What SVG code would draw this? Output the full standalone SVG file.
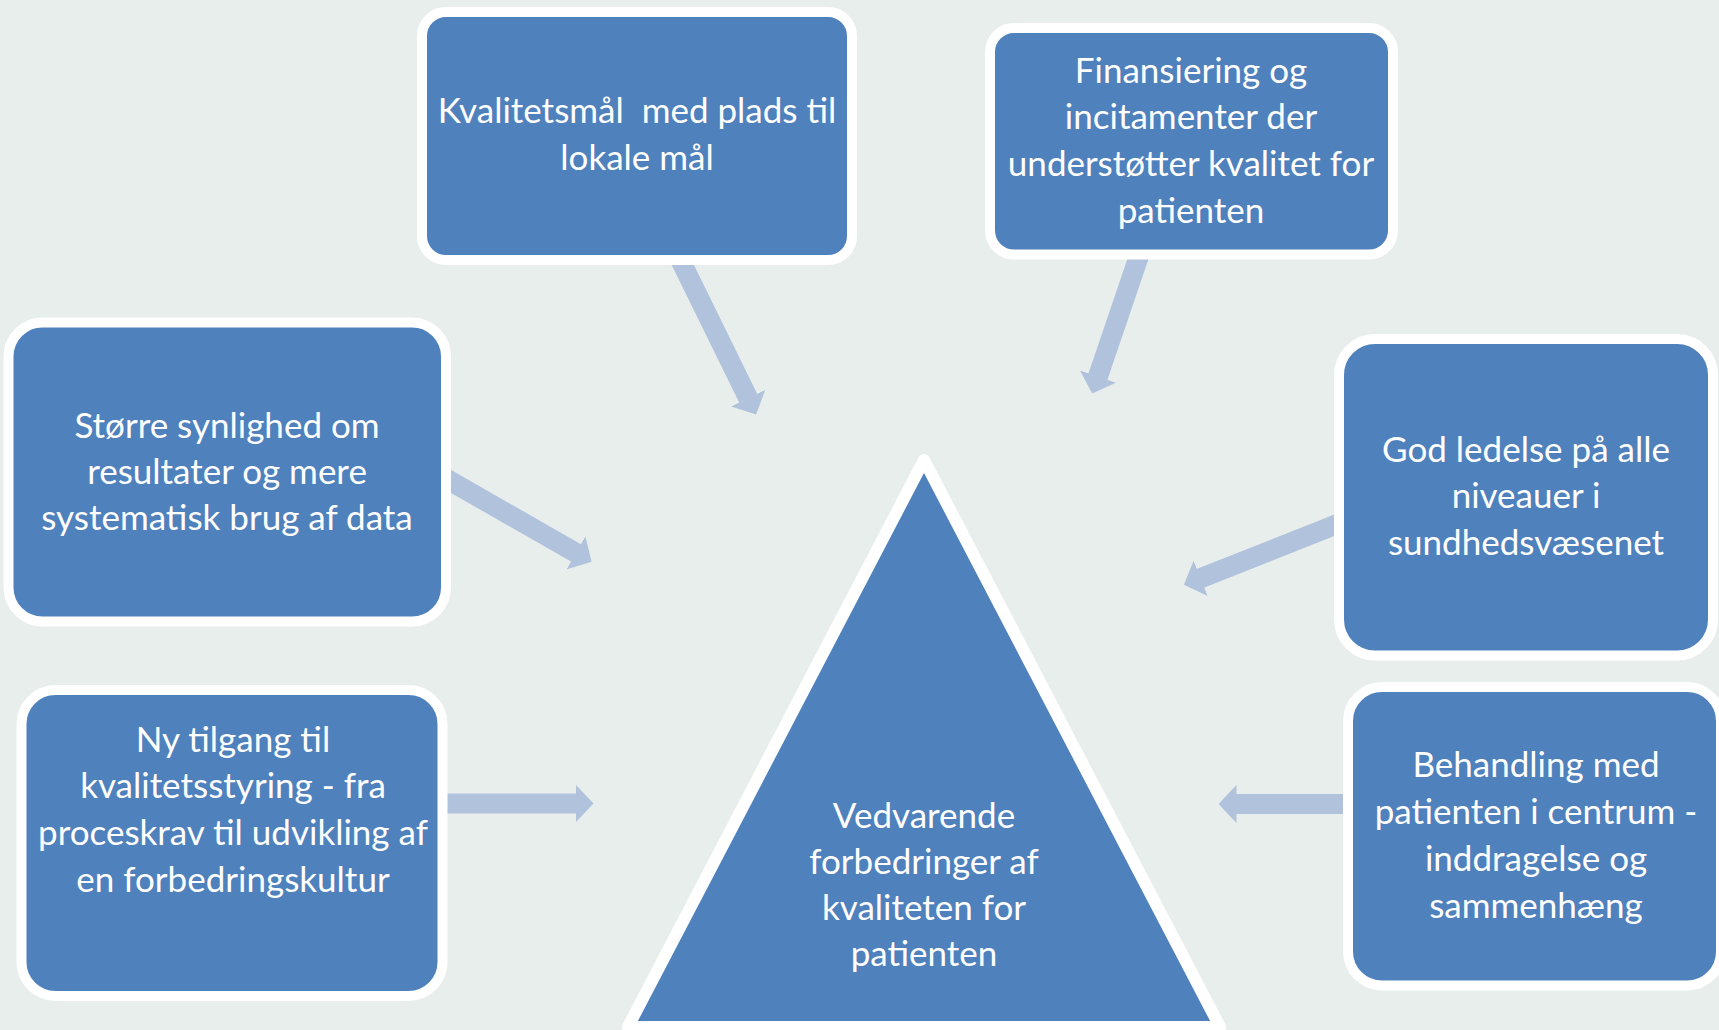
<svg xmlns="http://www.w3.org/2000/svg" width="1719" height="1030" viewBox="0 0 1719 1030">
<style>
.box{fill:#4F81BD;stroke:#FFFFFF;stroke-width:10}
.lbl{font-family:Lato,"Liberation Sans",sans-serif;font-size:35px;fill:#FFFFFF;text-anchor:middle}
.conn{stroke:#B1C2DD;stroke-width:20;fill:none;marker-end:url(#head)}
</style>
<defs>
<marker id="head" markerUnits="userSpaceOnUse" viewBox="0 0 18 38" markerWidth="18" markerHeight="38" refX="0.5" refY="19" orient="auto">
<path d="M0,0 L18,19 L0,38 Z" fill="#B1C2DD"/>
</marker>
</defs>
<rect x="0" y="0" width="1719" height="1030" fill="#E8EEEB"/>
<g id="connectors">
<line class="conn" x1="675.5" y1="250" x2="748.4" y2="398.7"/>
<line class="conn" x1="1141" y1="250" x2="1097.8" y2="377"/>
<line class="conn" x1="445" y1="478" x2="576.4" y2="553.1"/>
<line class="conn" x1="1340" y1="523" x2="1200.2" y2="578.4"/>
<line class="conn" x1="445" y1="803.5" x2="576" y2="803.5"/>
<line class="conn" x1="1348" y1="804" x2="1236" y2="804"/>
</g>
<g id="node-kvalitetsmaal">
<rect class="box" x="422" y="12" width="430" height="248" rx="24"/>
<text class="lbl" x="637" y="123">Kvalitetsmål&#160; med plads til</text>
<text class="lbl" x="637" y="170">lokale mål</text>
</g>
<g id="node-finansiering">
<rect class="box" x="990" y="28" width="403" height="226.5" rx="24"/>
<text class="lbl" x="1191" y="83">Finansiering og</text>
<text class="lbl" x="1191" y="129">incitamenter der</text>
<text class="lbl" x="1191" y="176">understøtter kvalitet for</text>
<text class="lbl" x="1191" y="223">patienten</text>
</g>
<g id="node-synlighed">
<rect class="box" x="8.5" y="322.5" width="437.5" height="299" rx="34"/>
<text class="lbl" x="227" y="438">Større synlighed om</text>
<text class="lbl" x="227" y="484">resultater og mere</text>
<text class="lbl" x="227" y="530">systematisk brug af data</text>
</g>
<g id="node-ledelse">
<rect class="box" x="1339" y="339" width="374" height="316.5" rx="36"/>
<text class="lbl" x="1526" y="462">God ledelse på alle</text>
<text class="lbl" x="1526" y="508">niveauer i</text>
<text class="lbl" x="1526" y="555">sundhedsvæsenet</text>
</g>
<g id="node-tilgang">
<rect class="box" x="21.5" y="690" width="421" height="306" rx="34"/>
<text class="lbl" x="233" y="752">Ny tilgang til</text>
<text class="lbl" x="233" y="798">kvalitetsstyring - fra</text>
<text class="lbl" x="233" y="845">proceskrav til udvikling af</text>
<text class="lbl" x="233" y="892">en forbedringskultur</text>
</g>
<g id="node-behandling">
<rect class="box" x="1348" y="687" width="373" height="298.5" rx="34"/>
<text class="lbl" x="1536" y="777">Behandling med</text>
<text class="lbl" x="1536" y="824">patienten i centrum -</text>
<text class="lbl" x="1536" y="871">inddragelse og</text>
<text class="lbl" x="1536" y="918">sammenhæng</text>
</g>
<g id="node-forbedringer">
<polygon points="924,460 628,1027 1220,1027" fill="#4F81BD" stroke="#FFFFFF" stroke-width="12" stroke-linejoin="round"/>
<text class="lbl" x="924" y="828">Vedvarende</text>
<text class="lbl" x="924" y="874">forbedringer af</text>
<text class="lbl" x="924" y="920">kvaliteten for</text>
<text class="lbl" x="924" y="966">patienten</text>
</g>
</svg>
